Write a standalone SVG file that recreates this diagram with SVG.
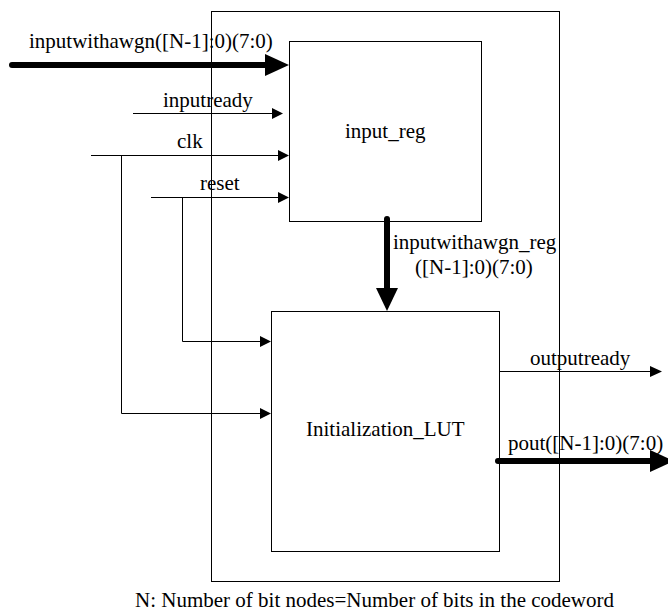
<svg xmlns="http://www.w3.org/2000/svg" width="668" height="615" viewBox="0 0 668 615">
<style>
text{font-family:"Liberation Serif","Times New Roman",serif;font-size:21px;fill:#000}
.box{fill:none;stroke:#000;stroke-width:1}
.thin{fill:none;stroke:#000;stroke-width:1}
.thick{fill:none;stroke:#000;stroke-width:6;stroke-linecap:round}
.ah{fill:#000;stroke:none}
</style>
<rect width="668" height="615" fill="#fff"/>
<g id="outer"><rect class="box" x="211.5" y="11.5" width="348" height="570"/></g>
<g id="input_reg"><rect class="box" x="289.5" y="41.5" width="192" height="180"/><text x="345" y="138">input_reg</text></g>
<g id="lut"><rect class="box" x="271.5" y="311.5" width="228" height="240"/><text x="306" y="436">Initialization_LUT</text></g>
<g id="connectors">
<path class="thick" d="M12,65H267"/><polygon class="ah" points="265,54 289,65 265,76"/>
<path class="thin" d="M133,113.5H273"/><polygon class="ah" points="272,108 283,113.5 272,119"/>
<path class="thin" d="M91,155.5H280"/><polygon class="ah" points="278,150 289,155.5 278,161"/>
<path class="thin" d="M121.5,155.5V413.5H262"/><polygon class="ah" points="260,408 271,413.5 260,419"/>
<path class="thin" d="M151,197.5H280"/><polygon class="ah" points="278,192 289,197.5 278,203"/>
<path class="thin" d="M182.5,197.5V341.5H262"/><polygon class="ah" points="260,336 271,341.5 260,347"/>
<path class="thick" d="M387,219V290"/><polygon class="ah" points="376,288 387,311 398,288"/>
<path class="thin" d="M499,371.5H652"/><polygon class="ah" points="650,366 662,371.5 650,377"/>
<path class="thick" d="M498,461H652"/><polygon class="ah" points="650,450 674,461 650,472"/>
</g>
<g id="labels">
<text x="29" y="48">inputwithawgn([N-1]:0)(7:0)</text>
<text x="163" y="107">inputready</text>
<text x="177" y="148">clk</text>
<text x="200" y="190">reset</text>
<text x="393" y="249">inputwithawgn_reg</text>
<text x="415" y="274">([N-1]:0)(7:0)</text>
<text x="530" y="365">outputready</text>
<text x="508" y="450">pout([N-1]:0)(7:0)</text>
<text x="135" y="607">N: Number of bit nodes=Number of bits in the codeword</text>
</g>
</svg>
